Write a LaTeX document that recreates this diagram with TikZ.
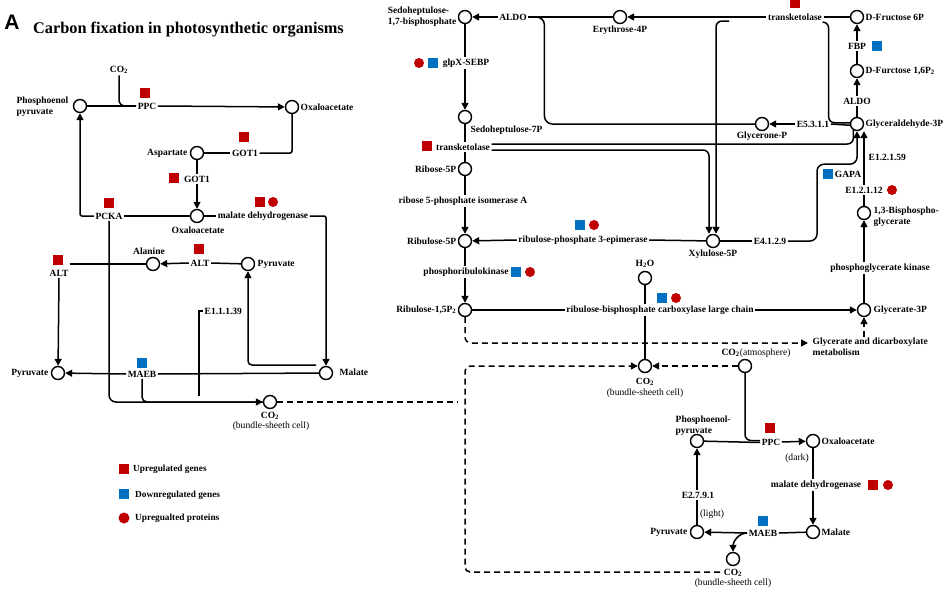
\documentclass[tikz,border=0pt]{standalone}
\usepackage{fontspec}
\setmainfont{Liberation Serif}
\newfontfamily\arialf{Liberation Sans}
\usetikzlibrary{arrows.meta,calc}
\definecolor{upred}{RGB}{192,0,0}
\definecolor{dnblue}{RGB}{0,112,192}
\begin{document}
\begin{tikzpicture}[x=1pt,y=-1pt,
 met/.style={circle,draw,line width=1.4pt,minimum size=13pt,inner sep=0pt,fill=white},
 lbl/.style={font=\bfseries\fontsize{9.5}{11}\selectfont,inner sep=1.5pt},
 nrm/.style={font=\fontsize{9.6}{11}\selectfont,inner sep=1pt},
 leg/.style={font=\bfseries\fontsize{9.3}{10}\selectfont,inner sep=0pt,anchor=west},
 ln/.style={line width=1.5pt},
 arr/.style={line width=1.5pt,-{Triangle[length=7pt,width=7pt]}},
 dsh/.style={line width=1.5pt,dash pattern=on 6pt off 4pt},
 upg/.style={fill=upred,minimum size=9.5pt,inner sep=0pt},
 dng/.style={fill=dnblue,minimum size=9.5pt,inner sep=0pt},
 upp/.style={circle,fill=upred,minimum size=10pt,inner sep=0pt},
]
\fill[white] (0,0) rectangle (943,589);
\useasboundingbox (0,0) rectangle (943,589);

% ---------- title ----------
\node[font=\arialf\bfseries\fontsize{21}{21}\selectfont,inner sep=0pt] (tA) at (12,22) {A};
\node[anchor=west,font=\bfseries\fontsize{16.3}{18}\selectfont,inner sep=0pt] (title) at (33,30) {Carbon fixation in photosynthetic organisms};

% ---------- left panel nodes ----------
\node[lbl] (co2a) at (119,70) {CO\textsubscript{2}};
\node[met] (pep1) at (80,106) {};
\node[lbl,align=left,anchor=east] (pep1t) at (70,107) {Phosphoenol\\pyruvate};
\node[lbl] (ppc1) at (147,106) {PPC};
\node[upg] (sq1) at (145,93) {};
\node[met] (oaa1) at (292,107) {};
\node[lbl,anchor=west] (oaa1t) at (299,107) {Oxaloacetate};
\node[lbl] (got1a) at (245,153) {GOT1};
\node[upg] (sq2) at (244,137) {};
\node[met] (asp) at (197,153) {};
\node[lbl,anchor=east] (aspt) at (189,153) {Aspartate};
\node[lbl] (got1b) at (197,179) {GOT1};
\node[upg] (sq3) at (174,178) {};
\node[met] (oaa2) at (197,216) {};
\node[lbl] (oaa2t) at (198,230) {Oxaloacetate};
\node[lbl] (mdh1) at (263,216) {malate dehydrogenase};
\node[upg] (sq4) at (260,202) {};
\node[upp] (ci1) at (273,202) {};
\node[lbl] (pcka) at (109,216) {PCKA};
\node[upg] (sq5) at (109,203) {};
\node[met] (mal1) at (326,373) {};
\node[lbl,anchor=west] (mal1t) at (338,372) {Malate};
\node[met] (pyr1) at (248,264) {};
\node[lbl,anchor=west] (pyr1t) at (256,264) {Pyruvate};
\node[lbl] (alt1) at (200,263) {ALT};
\node[upg] (sq6) at (199,249) {};
\node[met] (ala) at (153,264) {};
\node[lbl] (alat) at (149,251) {Alanine};
\node[lbl] (alt2) at (59,273) {ALT};
\node[upg] (sq7) at (58,260) {};
\node[met] (pyr2) at (58,373) {};
\node[lbl,anchor=east] (pyr2t) at (50,373) {Pyruvate};
\node[lbl] (maeb1) at (142,374) {MAEB};
\node[dng] (bq1) at (142,363) {};
\node[lbl,anchor=west] (e11139) at (203,311) {E1.1.1.39};
\node[met] (co2b) at (270,402) {};
\node[lbl] (co2bt) at (270,416) {CO\textsubscript{2}};
\node[nrm] (co2bt2) at (271,426) {(bundle-sheeth cell)};
\coordinate (m1j) at (316,365);
\coordinate (e1b) at (199,396);
\coordinate (dj) at (458,402);

% ---------- left panel connectors ----------
\draw[ln,rounded corners=6pt] (co2a.south) |- (ppc1.west);
\draw[ln] (pep1) -- (ppc1.west);
\draw[arr] (ppc1.east) -- (oaa1);
\draw[ln,rounded corners=2pt] (oaa1) |- (got1a.east);
\draw[ln] (got1a.west) -- (asp);
\draw[ln] (asp) -- (got1b.north);
\draw[arr] (got1b.south) -- (oaa2);
\draw[ln] (oaa2) -- (mdh1.west);
\draw[arr,rounded corners=2pt] (mdh1.east) -| (mal1);
\draw[ln] (pcka.east) -- (oaa2);
\draw[arr,rounded corners=2pt] (pcka.west) -| (pep1);
\draw[arr,rounded corners=7pt] (pcka.south) |- (co2b);
\draw[ln,rounded corners=5pt] (maeb1.south) |- (co2b.west);
\draw[ln] (mal1) -- (maeb1.east);
\draw[arr] (maeb1.west) -- (pyr2);
\draw[arr,rounded corners=4pt] (m1j) -| (pyr1);
\draw[ln] (pyr1) -- (alt1.east);
\draw[arr] (alt1.west) -- (ala);
\draw[ln] (ala) -- (alt2.east |- ala);
\draw[arr] (alt2.south) -- (pyr2);
\draw[ln] (e11139.west) -| (e1b);
\draw[dsh] (co2b) -- (dj);

% ---------- legend ----------
\node[upg,minimum size=10pt] (lg1) at (124,469) {};
\node[leg] (lg1t) at (133,469) {Upregulated genes};
\node[dng,minimum size=10pt] (lg2) at (124,494) {};
\node[leg] (lg2t) at (135,495) {Downregulated genes};
\node[upp,minimum size=11pt] (lg3) at (124,518) {};
\node[leg] (lg3t) at (135,518) {Upregualted proteins};

% ---------- right panel nodes ----------
\node[met] (sbp) at (465,17) {};
\node[lbl,align=left,anchor=east] (sbpt) at (458,17) {Sedoheptulose-\\1,7-bisphosphate};
\node[lbl] (aldo1) at (513,17) {ALDO};
\node[met] (e4p) at (620,17) {};
\node[lbl] (e4pt) at (620,30) {Erythrose-4P};
\node[lbl] (tk1) at (795,17) {transketolase};
\node[upg] (sq8) at (795,3) {};
\node[met] (fru6p) at (857,17) {};
\node[lbl,anchor=west] (fru6pt) at (864,17) {D-Fructose 6P};
\node[lbl] (fbp) at (857,46) {FBP};
\node[dng] (bq2) at (877,46) {};
\node[met] (fru16) at (857,71) {};
\node[lbl,anchor=west] (fru16t) at (864,71) {D-Furctose 1,6P\textsubscript{2}};
\node[lbl] (aldo2) at (857,101) {ALDO};
\node[met] (g3p) at (857,124) {};
\node[lbl,anchor=west] (g3pt) at (864,124) {Glyceraldehyde-3P};
\node[met] (glyp) at (762,124) {};
\node[lbl] (glypt) at (762,136) {Glycerone-P};
\node[lbl] (e5311) at (813,124) {E5.3.1.1};
\node[lbl] (glpx) at (466,63) {glpX-SEBP};
\node[upp] (ci2) at (419,63) {};
\node[dng] (bq3) at (433,63) {};
\node[met] (s7p) at (465,117) {};
\node[lbl,anchor=west] (s7pt) at (469,130) {Sedoheptulose-7P};
\node[lbl] (tk2) at (463,147) {transketolase};
\node[upg] (sq9) at (427,146) {};
\node[met] (r5p) at (465,169) {};
\node[lbl,anchor=east] (r5pt) at (458,169) {Ribose-5P};
\node[lbl] (rpi) at (463,201) {ribose 5-phosphate isomerase A};
\node[met] (ru5p) at (465,241) {};
\node[lbl,anchor=east] (ru5pt) at (458,241) {Ribulose-5P};
\node[lbl] (rpe) at (583,240) {ribulose-phosphate 3-epimerase};
\node[dng] (bq4) at (580,225) {};
\node[upp] (ci3) at (594,225) {};
\node[met] (xyl) at (713,241) {};
\node[lbl] (xylt) at (713,254) {Xylulose-5P};
\node[lbl] (e4129) at (770,241) {E4.1.2.9};
\node[lbl] (gapa) at (848,174) {GAPA};
\node[dng] (bq5) at (828,174) {};
\node[lbl,anchor=west] (e12159) at (867,157) {E1.2.1.59};
\node[lbl] (e12112) at (864,190) {E1.2.1.12};
\node[upp] (ci4) at (892,190) {};
\node[met] (bpg) at (864,213) {};
\node[lbl,anchor=west,align=left] (bpgt) at (872,217) {1,3-Bisphospho-\\glycerate};
\node[lbl] (pgk) at (880,268) {phosphoglycerate kinase};
\node[met] (g3pg) at (864,310) {};
\node[lbl,anchor=west] (g3pgt) at (872,310) {Glycerate-3P};
\node[lbl] (prk) at (466,272) {phosphoribulokinase};
\node[dng] (bq6) at (516,272) {};
\node[upp] (ci5) at (530,272) {};
\node[met] (rub15) at (465,310) {};
\node[lbl,anchor=east] (rub15t) at (458,310) {Ribulose-1,5P\textsubscript{2}};
\node[lbl] (rubisco) at (660,310) {ribulose-bisphosphate carboxylase large chain};
\node[dng] (bq7) at (662,298) {};
\node[upp] (ci6) at (676,298) {};
\node[lbl] (h2ot) at (645,264) {H\textsubscript{2}O};
\node[met] (h2o) at (645,278) {};
\node[met] (co2c) at (645,366) {};
\node[lbl] (co2ct) at (645,382) {CO\textsubscript{2}};
\node[nrm] (co2ct2) at (645,393) {(bundle-sheeth cell)};
\node[lbl,anchor=north west,align=left] (gdm) at (811,336) {Glycerate and dicarboxylate\\metabolism};
\node[met] (co2atm) at (745,366) {};
\node[nrm] (co2atmt) at (756,353) {\textbf{CO\textsubscript{2}}(atmosphere)};
\node[met] (pep2) at (697,441) {};
\node[lbl,anchor=north west,align=left] (pep2t) at (674,414) {Phosphoenol-\\pyruvate};
\node[lbl] (ppc2) at (771,442) {PPC};
\node[upg] (sq10) at (770,428) {};
\node[met] (oaa3) at (813,441) {};
\node[lbl,anchor=west] (oaa3t) at (820,441) {Oxaloacetate};
\node[nrm] (dark) at (797,458) {(dark)};
\node[lbl] (mdh2) at (816,485) {malate dehydrogenase};
\node[upg] (sq11) at (873,485) {};
\node[upp] (ci7) at (888,485) {};
\node[met] (mal2) at (813,532) {};
\node[lbl,anchor=west] (mal2t) at (820,532) {Malate};
\node[lbl] (maeb2) at (763,533) {MAEB};
\node[dng] (bq8) at (763,521) {};
\node[met] (pyr3) at (697,532) {};
\node[lbl,anchor=east] (pyr3t) at (689,532) {Pyruvate};
\node[lbl] (e2791) at (698,495) {E2.7.9.1};
\node[nrm] (light) at (712,514) {(light)};
\node[met] (co2d) at (733,559) {};
\node[lbl] (co2dt) at (733,573) {CO\textsubscript{2}};
\node[nrm] (co2dt2) at (733,583) {(bundle-sheeth cell)};
\coordinate (tkx) at (729,21);
\coordinate (dl) at (720,572);

% ---------- right panel connectors ----------
\draw[arr] (aldo1.west) -- (sbp);
\draw[ln] (aldo1.east) -- (e4p);
\draw[arr] (tk1.west) -- (e4p);
\draw[ln] (tk1.east) -- (fru6p);
\draw[arr] (fbp.north) -- (fru6p);
\draw[ln] (fru16) -- (fbp.south);
\draw[arr] (aldo2.north) -- (fru16);
\draw[ln] (g3p) -- (aldo2.south);
\draw[ln,rounded corners=6pt] (tk1.south east) -- ++(5,0) |- (g3p.170);
\draw[arr] (e5311.west) -- (glyp);
\draw[ln] (g3p.190) -- (e5311.east);
\draw[ln,rounded corners=8pt] (glyp.west) -| ($(aldo1.east)+(16,0)$) -- (aldo1.east);
\draw[arr,rounded corners=6pt] (tkx) -| ($(xyl.north)+(3,0)$);
\draw[ln,rounded corners=6pt] ($(tk2.east)+(0,-3)$) -| (g3p.240);
\draw[arr,rounded corners=6pt] ($(tk2.east)+(0,3)$) -| ($(xyl.north)+(-4,0)$);
\draw[ln] (sbp) -- (glpx.north -| sbp);
\draw[arr] (glpx.south -| sbp) -- (s7p);
\draw[ln] (s7p) -- (tk2.north -| s7p);
\draw[ln] (tk2.south -| s7p) -- (r5p);
\draw[ln] (r5p) -- (rpi.north -| r5p);
\draw[arr] (rpi.south -| r5p) -- (ru5p);
\draw[arr] (rpe.west) -- (ru5p);
\draw[ln] (rpe.east) -- (xyl);
\draw[ln] (xyl) -- (e4129.west);
\draw[arr,rounded corners=7pt] (e4129.east) -| ($(g3p.south)+(-40,33)$) -| (g3p.south);
\draw[ln] (bpg) -- (e12112.south -| bpg);
\draw[arr] (e12112.north -| bpg) -- (g3p.south -| bpg);
\draw[arr] (pgk.north -| bpg) -- (bpg);
\draw[ln] (g3pg) -- (pgk.south -| g3pg);
\draw[ln] (ru5p) -- (prk.north -| ru5p);
\draw[arr] (prk.south -| ru5p) -- (rub15);
\draw[ln] (rub15) -- (rubisco.west);
\draw[arr] (rubisco.east) -- (g3pg);
\draw[ln] (h2o) -- (rubisco.north -| h2o);
\draw[ln] (rubisco.south -| h2o) -- (co2c);
\draw[dsh,arr,rounded corners=6pt] (rub15) |- ($(gdm.north west)+(-3,7)$);
\draw[dsh,arr] ($(gdm.north west -| g3pg)+(0,1)$) -- (g3pg);
\draw[dsh,arr] (co2atm) -- (co2c);
\draw[ln,rounded corners=6pt] (co2atm) |- ($(ppc2.west)+(0,-1.5)$);
\draw[ln] (pep2) -- ($(ppc2.west)+(0,0.5)$);
\draw[arr] (ppc2.east) -- (oaa3);
\draw[ln] (oaa3) -- (mdh2.north -| oaa3);
\draw[arr] (mdh2.south -| oaa3) -- (mal2);
\draw[ln] (mal2) -- (maeb2.east);
\draw[arr] (maeb2.west) -- (pyr3);
\draw[arr] (maeb2.west) to[out=180,in=90] (co2d);
\draw[ln] (pyr3) -- (e2791.south -| pyr3);
\draw[arr] (e2791.north -| pyr3) -- (pep2);
\draw[dsh,arr,rounded corners=5pt] (dl) -| ($(co2c)+(-180,0)$) -- (co2c);
\end{tikzpicture}
\end{document}
